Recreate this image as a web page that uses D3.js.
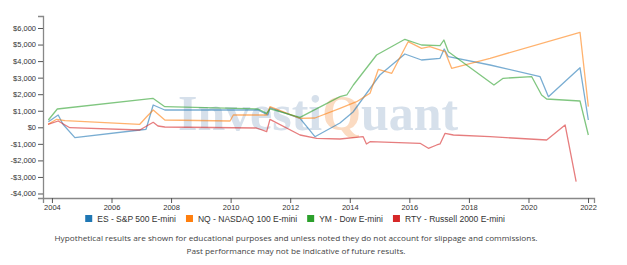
<!DOCTYPE html>
<html><head><meta charset="utf-8">
<script src="https://cdn.jsdelivr.net/npm/d3@7"></script>
<style>body{margin:0;background:#fff}svg{display:block}</style>
</head><body><svg id="c" width="627" height="265"></svg>
<script>
// ---- data (decimal years, dollars) ----
const seriesNames = ["ES - S&P 500 E-mini","NQ - NASDAQ 100 E-mini","YM - Dow E-mini","RTY - Russell 2000 E-mini"];
const seriesColors = ["#1f77b4","#ff7f0e","#2ca02c","#d62728"];
const esYears  = [2003.88,2004.21,2004.37,2004.77,2006.95,2007.16,2007.40,2007.79,2010.92,2011.25,2011.32,2012.33,2012.83,2013.67,2014.11,2015.01,2015.85,2016.41,2017.03,2017.17,2017.31,2018.71,2020.39,2020.67,2021.73,2022.01];
const esValues = [338,743,181,-628,-163,-121,1347,1045,1045,743,1184,544,-568,260,924,3160,4429,4066,4169,4731,4266,3764,3057,1849,3601,441];
const nqYears  = [2003.87,2004.16,2004.44,2006.95,2007.18,2007.40,2007.79,2009.98,2010.09,2011.21,2011.32,2012.33,2012.83,2013.67,2014.23,2014.68,2014.96,2015.41,2015.96,2016.41,2016.69,2017.20,2017.42,2018.71,2021.73,2022.01];
const nqValues = [181,483,399,181,640,1045,441,381,743,743,1245,544,562,1148,1547,2054,3504,3263,5172,4773,4870,4568,3565,4169,5740,1245];
const ymYears  = [2003.88,2004.18,2007.39,2007.79,2010.92,2011.21,2011.32,2012.33,2013.67,2013.90,2014.12,2014.90,2015.85,2016.41,2017.03,2017.16,2017.31,2018.84,2019.15,2020.11,2020.44,2020.61,2021.73,2022.01];
const ymValues = [441,1106,1752,1245,1106,846,1106,604,1849,1952,2556,4368,5317,4973,4930,5275,4568,2556,2961,3057,1952,1710,1589,-465];
const rtyYears  = [2003.87,2004.21,2004.60,2006.95,2007.40,2007.56,2007.79,2010.87,2011.21,2011.32,2012.33,2012.89,2013.67,2014.45,2014.56,2014.68,2016.36,2016.64,2016.92,2017.03,2017.20,2017.48,2018.71,2020.61,2021.23,2021.60];
const rtyValues = [181,381,-24,-163,302,79,18,-42,-266,483,-465,-665,-707,-568,-1009,-870,-967,-1269,-1069,-1009,-363,-465,-568,-767,139,-3287];
const xTicks = [2004,2006,2008,2010,2012,2014,2016,2018,2020,2022];
const yTicks = [-4000,-3000,-2000,-1000,0,1000,2000,3000,4000,5000,6000];
const footnotes = ["Hypothetical results are shown for educational purposes and unless noted they do not account for slippage and commissions.",
                   "Past performance may not be indicative of future results."];

const svg = d3.select("#c");
const x = d3.scaleLinear().domain([2003.7, 2022.2]).range([43, 594]);
const y = d3.scaleLinear().domain([-4272, 6725]).range([198, 16]);

// watermark
const wm = svg.append("text").attr("x",178).attr("y",130)
  .attr("font-family","Liberation Serif, Times New Roman, serif").attr("font-weight","bold")
  .attr("font-size",50).attr("textLength",280).attr("lengthAdjust","spacingAndGlyphs");
wm.append("tspan").attr("fill","#d6e0eb").text("Investi");
wm.append("tspan").attr("fill","#fbdbc2").text("Q");
wm.append("tspan").attr("fill","#d6e0eb").text("uant");

// axes
const fmt = v => (v<0?"-$":"$") + d3.format(",")(Math.abs(v));
const gy = svg.append("g").attr("transform","translate(43,0)")
  .call(d3.axisLeft(y).tickValues(yTicks).tickFormat(fmt).tickSize(5));
const gx = svg.append("g").attr("transform","translate(0,198)")
  .call(d3.axisBottom(x).tickValues(xTicks).tickFormat(d3.format("d")).tickSize(5));
[gx,gy].forEach(g=>{
  g.selectAll("path.domain").attr("stroke","#888").attr("stroke-width",1.3);
  g.selectAll(".tick line").attr("stroke","#555");
  g.selectAll("text").attr("font-family","Arial, Liberation Sans, sans-serif").attr("font-size",7.5).attr("fill","#333");
});
gy.selectAll("text").attr("x",-7);
gx.selectAll("text").attr("y",7);

// lines
const allSeries = [[esYears,esValues],[nqYears,nqValues],[ymYears,ymValues],[rtyYears,rtyValues]];
const line = d3.line().x(d=>x(d[0])).y(d=>y(d[1]));
allSeries.forEach((s,i)=>{
  const pts = s[0].map((t,j)=>[t,s[1][j]]);
  svg.append("path").datum(pts).attr("d",line).attr("fill","none")
    .attr("stroke",seriesColors[i]).attr("stroke-opacity",0.6).attr("stroke-width",1.3)
    .attr("stroke-linejoin","round");
});

// legend
const lg = svg.append("g");
let cx = 0;
seriesNames.forEach((n,i)=>{
  const g = lg.append("g").attr("transform",`translate(${cx},0)`);
  g.append("rect").attr("x",0).attr("y",-4).attr("width",7).attr("height",7).attr("fill",seriesColors[i]);
  const t = g.append("text").attr("x",12).attr("y",3).attr("font-family","Arial, Liberation Sans, sans-serif")
    .attr("font-size",8.5).attr("fill","#333").text(n);
  cx += 12 + t.node().getComputedTextLength() + 10;
});
const lw = cx - 10;
lg.attr("transform",`translate(${295 - lw/2},219)`);

// footnotes
const fw = [483, 219];
footnotes.forEach((f,i)=>{
  svg.append("text").attr("x",296).attr("y",241+i*13).attr("text-anchor","middle")
    .attr("font-family","Open Sans, sans-serif").attr("font-size",7).attr("fill","#444")
    .attr("textLength",fw[i]).attr("lengthAdjust","spacingAndGlyphs").text(f);
});
</script></body></html>
